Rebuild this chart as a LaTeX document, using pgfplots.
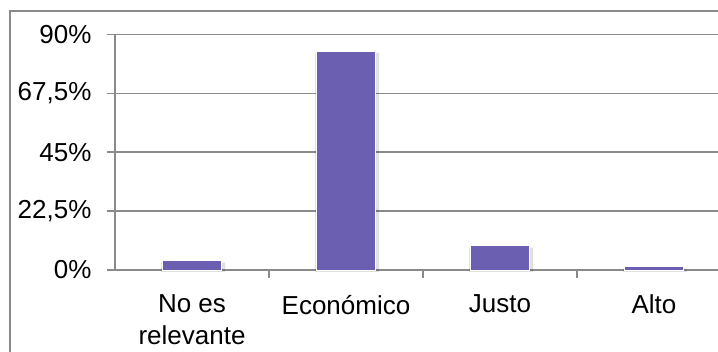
\documentclass[border=0pt]{standalone}
\usepackage{pgfplots}
\pgfplotsset{compat=1.18}
\usepackage{fontspec}
\setmainfont{Liberation Sans}
\definecolor{barc}{RGB}{106,95,176}
\definecolor{gridc}{RGB}{138,138,138}
\begin{document}
\fontsize{19.5pt}{24pt}\selectfont
\begin{tikzpicture}
\draw[gridc, line width=1.2pt] (7.5pt,-20pt) -- (7.5pt,255.75pt) -- (600pt,255.75pt);
\begin{axis}[
  at={(86.25pt,61.5pt)}, anchor=south west,
  scale only axis, width=462pt, height=176.6pt,
  xmin=-0.5, xmax=3.5, ymin=0, ymax=90,
  axis x line*=bottom, axis y line*=left,
  axis line style={gridc, line width=1.3pt},
  ybar, bar width=44.25pt, bar shift=0pt,
  ytick={0,22.5,45,67.5,90},
  yticklabels={0\%,{22,5\%},45\%,{67,5\%},90\%},
  yticklabel style={xshift=-5pt},
  ymajorgrids, major grid style={gridc, line width=1.3pt},
  xtick={0,1,2,3},
  xticklabels={{No es\\relevante},Económico,Justo,Alto},
  xticklabel style={align=center, yshift=-6pt},
  major x tick style={draw=none},
  minor xtick={0.5,1.5,2.5,3.5},
  minor x tick style={gridc, line width=1.3pt},
  minor tick length=6pt,
  major tick length=6pt,
  ytick style={gridc, line width=1.3pt},
  tick align=outside,
  clip=false,
]
\addplot[fill=black, draw=none, opacity=0.12, bar width=48pt, xshift=0.8pt, yshift=-1.5pt] coordinates {(0,3.6) (1,83.7) (2,9.3) (3,1.3)};
\addplot[fill=barc, draw=white, line width=0.6pt] coordinates {(0,3.6) (1,83.7) (2,9.3) (3,1.3)};
\end{axis}
\pgfresetboundingbox
\useasboundingbox (0,0) rectangle (538.5pt,264pt);
\end{tikzpicture}
\end{document}
